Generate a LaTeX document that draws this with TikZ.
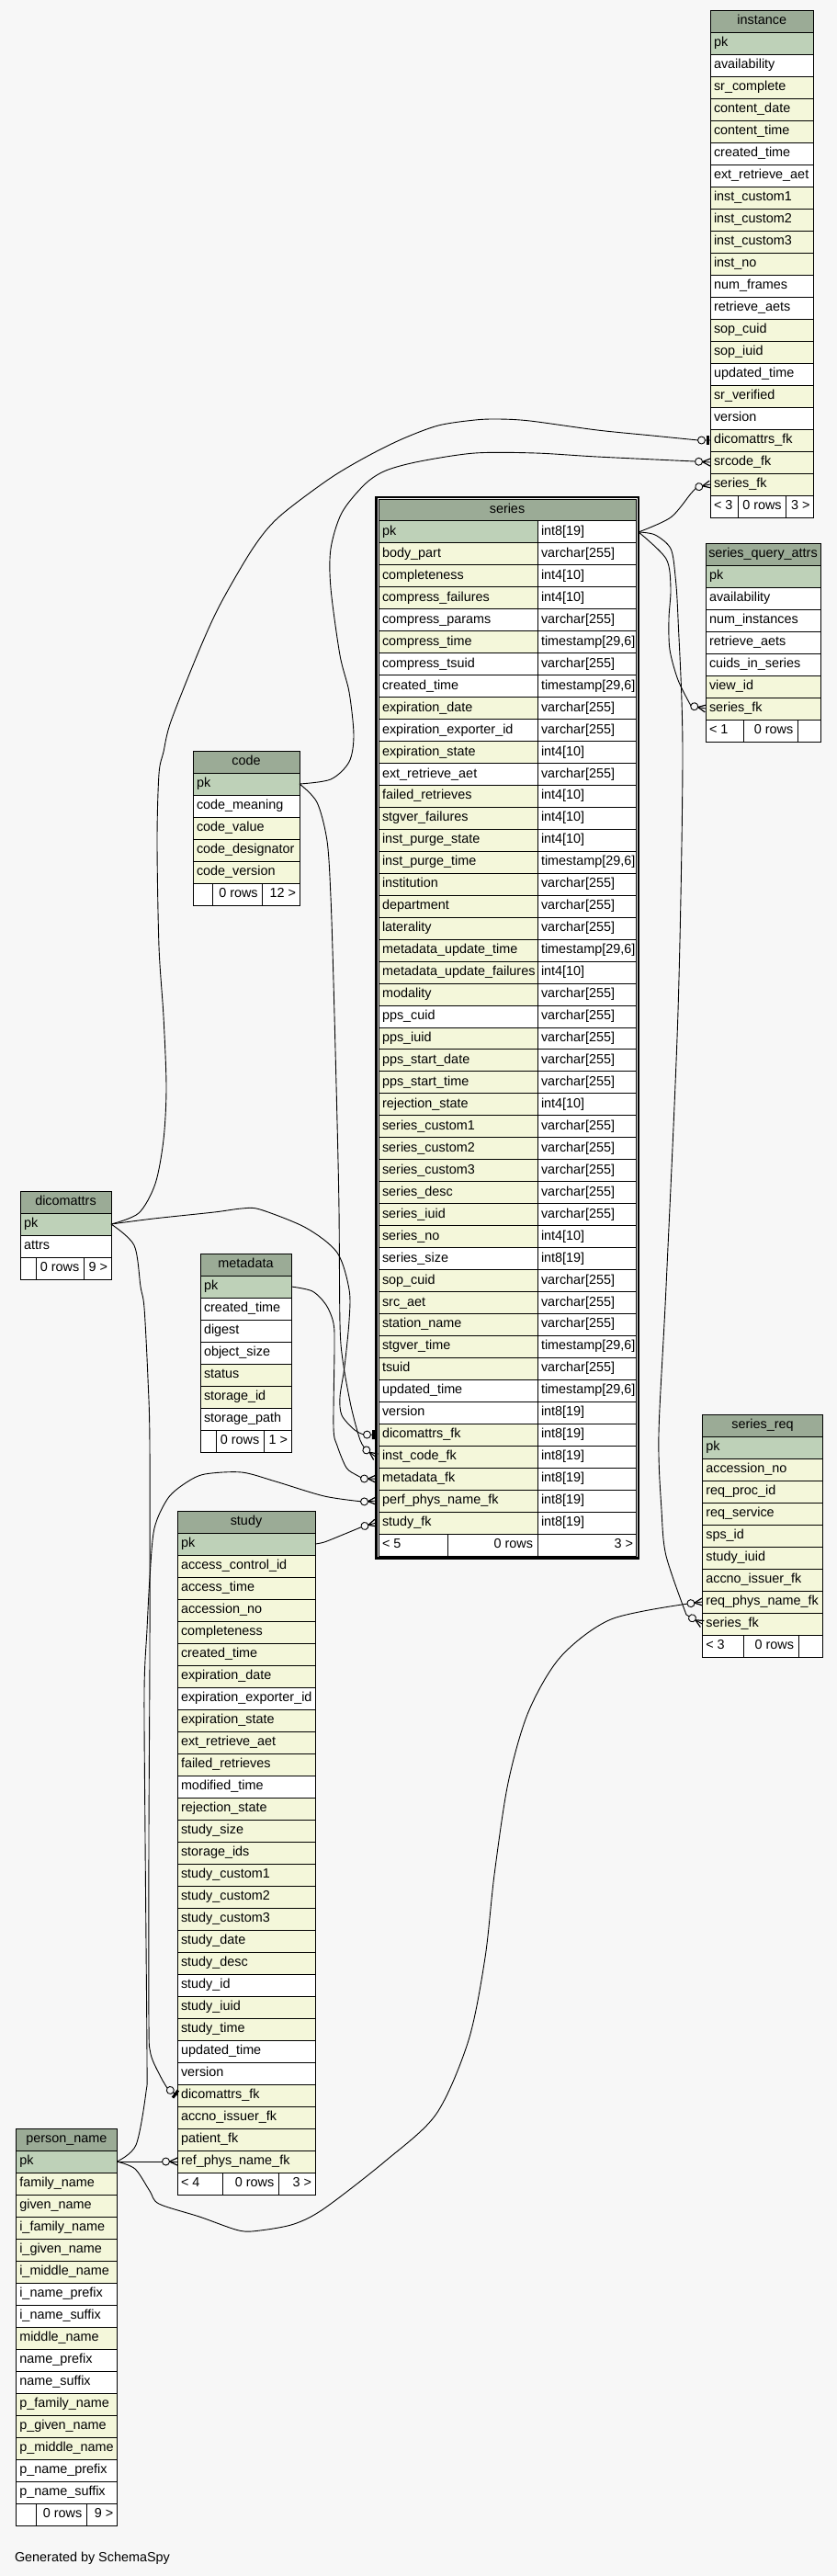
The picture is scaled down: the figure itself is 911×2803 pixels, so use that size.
\documentclass[tikz,border=0pt]{standalone}
\usepackage{fontspec}
\setmainfont{Liberation Sans}
\usetikzlibrary{decorations.markings}
\definecolor{bgc}{HTML}{F7F7F7}
\definecolor{hdc}{HTML}{9BAB96}
\definecolor{pkc}{HTML}{BED1B8}
\definecolor{idc}{HTML}{F4F7DA}
\tikzset{
  cP/.style={fill=pkc}, cY/.style={fill=idc}, cW/.style={fill=white}, cH/.style={fill=hdc},
  cellline/.style={draw=black, line width=1bp},
  txt/.style={font=\fontsize{14.4bp}{17bp}\selectfont, inner sep=0pt, outer sep=0pt, text=black},
  fk/.style={draw=black, line width=0.9bp},
  crowo/.style={postaction={decorate, decoration={markings, mark=at position 1 with {%
     \draw[line width=1.2bp] (-8.5bp,0) -- (0,4bp) (-8.5bp,0) -- (0,-4bp);
     \filldraw[fill=bgc, draw=black, line width=0.9bp] (-12.5bp,0) circle (4bp);}}}},
  teeo/.style={postaction={decorate, decoration={markings, mark=at position 1 with {%
     \fill[black] (-4bp,-5bp) rectangle (-1bp,5bp);
     \filldraw[fill=bgc, draw=black, line width=0.9bp] (-9.5bp,0) circle (4bp);}}}},
}
% #1 id, #2 title, #3 left, #4 right, #5 top, #6 rows
\newcommand\dbtab[6]{%
  \path[cH,cellline] (#3,#5) rectangle (#4,#5+24);
  \node[txt,anchor=base] (#1) at ({(#3+#4)/2},#5+15.5) {#2};
  \foreach \nm/\st [count=\i] in {#6} {%
    \pgfmathsetmacro\ry{#5+24*\i}%
    \path[\st,cellline] (#3,\ry) rectangle (#4,\ry+24);
    \node[txt,anchor=base west] (#1-\nm) at (#3+4,\ry+15.5) {\nm};
    \coordinate (#1-\nm-w) at (#3,\ry+12);
    \coordinate (#1-\nm-e) at (#4,\ry+12);
  }%
}
% #1 id, #2 left, #3 right, #4 top, #5 d1, #6 d2, #7 t1, #8 t2, #9 t3
\newcommand\dbfoot[9]{%
  \path[cW,cellline] (#2,#4) rectangle (#3,#4+24);
  \draw[cellline] (#5,#4) -- (#5,#4+24) (#6,#4) -- (#6,#4+24);
  \node[txt,anchor=base west] (#1-f1) at (#2+4,#4+15.5) {#7};
  \node[txt,anchor=base east] (#1-f2) at (#6-5,#4+15.5) {#8};
  \node[txt,anchor=base east] (#1-f3) at (#3-4,#4+15.5) {#9};
}
\begin{document}
\catcode`\_=12
\begin{tikzpicture}[x=1bp,y=-1bp]
\useasboundingbox (0,0) rectangle (911,2803);
\fill[bgc] (0,0) rectangle (911,2803);

% instance
\dbtab{instance}{instance}{773}{885.5}{11}{pk/cP, availability/cW, sr_complete/cY, content_date/cY, content_time/cY, created_time/cW, ext_retrieve_aet/cW, inst_custom1/cY, inst_custom2/cY, inst_custom3/cY, inst_no/cY, num_frames/cW, retrieve_aets/cW, sop_cuid/cY, sop_iuid/cY, updated_time/cW, sr_verified/cY, version/cW, dicomattrs_fk/cY, srcode_fk/cY, series_fk/cY}
\dbfoot{instance}{773}{885.5}{539}{803.3}{855.7}{< 3}{0 rows}{3 >}

% series_query_attrs
\dbtab{sqa}{series_query_attrs}{768}{893}{591}{pk/cP, availability/cW, num_instances/cW, retrieve_aets/cW, cuids_in_series/cW, view_id/cY, series_fk/cY}
\dbfoot{sqa}{768}{893}{783}{809.3}{868.3}{< 1}{0 rows}{}

% code
\dbtab{code}{code}{210}{326}{817}{pk/cP, code_meaning/cW, code_value/cY, code_designator/cY, code_version/cY}
\dbfoot{code}{210}{326}{961}{231.7}{285.7}{}{0 rows}{12 >}

% dicomattrs
\dbtab{dicomattrs}{dicomattrs}{22}{121}{1296}{pk/cP, attrs/cW}
\dbfoot{dicomattrs}{22}{121}{1368}{39.3}{91.3}{}{0 rows}{9 >}

% metadata
\dbtab{metadata}{metadata}{218}{317}{1364}{pk/cP, created_time/cW, digest/cW, object_size/cW, status/cY, storage_id/cY, storage_path/cW}
\dbfoot{metadata}{218}{317}{1556}{235.7}{287.3}{}{0 rows}{1 >}

% study
\dbtab{study}{study}{193}{343}{1644}{pk/cP, access_control_id/cY, access_time/cY, accession_no/cY, completeness/cY, created_time/cY, expiration_date/cY, expiration_exporter_id/cW, expiration_state/cY, ext_retrieve_aet/cY, failed_retrieves/cY, modified_time/cW, rejection_state/cY, study_size/cY, storage_ids/cY, study_custom1/cY, study_custom2/cY, study_custom3/cY, study_date/cY, study_desc/cY, study_id/cW, study_iuid/cY, study_time/cY, updated_time/cW, version/cW, dicomattrs_fk/cY, accno_issuer_fk/cY, patient_fk/cY, ref_phys_name_fk/cY}
\dbfoot{study}{193}{343}{2364}{242.3}{303.3}{< 4}{0 rows}{3 >}

% person_name
\dbtab{person_name}{person_name}{17.3}{127.3}{2316}{pk/cP, family_name/cY, given_name/cY, i_family_name/cY, i_given_name/cY, i_middle_name/cY, i_name_prefix/cW, i_name_suffix/cW, middle_name/cY, name_prefix/cW, name_suffix/cW, p_family_name/cY, p_given_name/cY, p_middle_name/cY, p_name_prefix/cW, p_name_suffix/cW}
\dbfoot{person_name}{17.3}{127.3}{2724}{39.3}{94.3}{}{0 rows}{9 >}

% series_req
\dbtab{series_req}{series_req}{764.3}{895.7}{1539}{pk/cP, accession_no/cY, req_proc_id/cY, req_service/cY, sps_id/cY, study_iuid/cY, accno_issuer_fk/cY, req_phys_name_fk/cY, series_fk/cY}
\dbfoot{series_req}{764.3}{895.7}{1779}{809}{869}{< 3}{0 rows}{}

% series (focus table)
\path[cH,cellline] (412,543) rectangle (692,543+23.958);
\node[txt,anchor=base] (series) at (552,543+15.5) {series};
\foreach \nm/\ty/\st [count=\i] in {pk/{int8[19]}/cP, body_part/{varchar[255]}/cY, completeness/{int4[10]}/cY, compress_failures/{int4[10]}/cY, compress_params/{varchar[255]}/cW, compress_time/{timestamp[29,6]}/cY, compress_tsuid/{varchar[255]}/cW, created_time/{timestamp[29,6]}/cW, expiration_date/{varchar[255]}/cY, expiration_exporter_id/{varchar[255]}/cW, expiration_state/{int4[10]}/cY, ext_retrieve_aet/{varchar[255]}/cW, failed_retrieves/{int4[10]}/cY, stgver_failures/{int4[10]}/cY, inst_purge_state/{int4[10]}/cY, inst_purge_time/{timestamp[29,6]}/cY, institution/{varchar[255]}/cY, department/{varchar[255]}/cY, laterality/{varchar[255]}/cY, metadata_update_time/{timestamp[29,6]}/cY, metadata_update_failures/{int4[10]}/cY, modality/{varchar[255]}/cY, pps_cuid/{varchar[255]}/cW, pps_iuid/{varchar[255]}/cY, pps_start_date/{varchar[255]}/cY, pps_start_time/{varchar[255]}/cY, rejection_state/{int4[10]}/cY, series_custom1/{varchar[255]}/cY, series_custom2/{varchar[255]}/cY, series_custom3/{varchar[255]}/cY, series_desc/{varchar[255]}/cY, series_iuid/{varchar[255]}/cY, series_no/{int4[10]}/cY, series_size/{int8[19]}/cW, sop_cuid/{varchar[255]}/cY, src_aet/{varchar[255]}/cY, station_name/{varchar[255]}/cY, stgver_time/{timestamp[29,6]}/cY, tsuid/{varchar[255]}/cY, updated_time/{timestamp[29,6]}/cW, version/{int8[19]}/cW, dicomattrs_fk/{int8[19]}/cY, inst_code_fk/{int8[19]}/cY, metadata_fk/{int8[19]}/cY, perf_phys_name_fk/{int8[19]}/cY, study_fk/{int8[19]}/cY} {%
  \pgfmathsetmacro\ry{543+23.958*\i}%
  \path[\st,cellline] (412,\ry) rectangle (585,\ry+23.958);
  \path[cW,cellline] (585,\ry) rectangle (692,\ry+23.958);
  \node[txt,anchor=base west] (series-\nm) at (416,\ry+15.5) {\nm};
  \node[txt,anchor=base west] (series-\nm-type) at (589,\ry+15.5) {\ty};
  \coordinate (series-\nm-w) at (409,\ry+12);
  \coordinate (series-\nm-e) at (695,\ry+12);
}
\path[cW,cellline] (412,1669.0) rectangle (692,1693);
\draw[cellline] (487,1669.0) -- (487,1693) (585,1669.0) -- (585,1693);
\node[txt,anchor=base west] (series-f1) at (416,1669+15.5) {< 5};
\node[txt,anchor=base east] (series-f2) at (580,1669+15.5) {0 rows};
\node[txt,anchor=base east] (series-f3) at (689,1669+15.5) {3 >};
\draw[line width=2.5bp] (409.25,540.75) rectangle (694.75,1695.25);

% connectors
% instance.dicomattrs_fk -> dicomattrs.pk
\draw[fk,teeo] plot[smooth,tension=0.5] coordinates {(dicomattrs-pk-e) (151,1320) (169,1288) (178,1240) (181,1183) (178,1106) (173,1030) (171,915) (173,842) (178,818) (186,785) (217,707) (240,657) (275,597) (303,563) (357,522) (397,498) (437,478) (477,463) (517,457) (543,456) (577,458) (650,468) (710,474) (760,479)} -- (instance-dicomattrs_fk-w);
% instance.srcode_fk -> code.pk
\draw[fk,crowo] plot[smooth,tension=0.5] coordinates {(code-pk-e) (360,848) (380,829) (385,800) (380,753) (370,713) (360,640) (360,597) (372,558) (397,527) (420,512) (457,502) (517,493) (583,493) (650,497) (756,502)} -- (instance-srcode_fk-w);
% instance.series_fk -> series.pk
\draw[fk,crowo] plot[smooth,tension=0.5] coordinates {(series-pk-e) (730,563) (752,537) (759,530)} -- (instance-series_fk-w);
% series_query_attrs.series_fk -> series.pk
\draw[fk,crowo] plot[smooth,tension=0.5] coordinates {(series-pk-e) (725,608) (730,640) (728,673) (729,707) (738,740) (752,768)} -- (sqa-series_fk-w);
% series_req.series_fk -> series.pk
\draw[fk,crowo] plot[smooth,tension=0.5] coordinates {(series-pk-e) (713,582) (730,597) (735,627) (738,673) (743,820) (738,1100) (725,1400) (717,1560) (720,1643) (725,1693) (747,1757)} -- (series_req-series_fk-w);
% series_req.req_phys_name_fk -> person_name.pk
\draw[fk,crowo] plot[smooth,tension=0.5] coordinates {(person_name-pk-e) (147,2360) (163,2384) (173,2398) (217,2412) (260,2427) (283,2427) (320,2420) (353,2403) (420,2351) (475,2300) (510,2220) (528,2130) (538,2040) (553,1940) (575,1863) (610,1803) (665,1762) (749,1745)} -- (series_req-req_phys_name_fk-w);
% series.perf_phys_name_fk -> person_name.pk
\draw[fk,crowo] plot[smooth,tension=0.5] coordinates {(person_name-pk-e) (148,2334) (159,2276) (160,2240) (158,2000) (157,1840) (160,1773) (163,1717) (168,1663) (183,1630) (203,1613) (223,1604) (263,1602) (300,1612) (353,1628) (395,1634)} -- (series-perf_phys_name_fk-w);
% study.ref_phys_name_fk -> person_name.pk
\draw[fk,crowo] (person_name-pk-e) -- (study-ref_phys_name_fk-w);
% study.dicomattrs_fk -> dicomattrs.pk
\draw[fk,teeo] plot[smooth,tension=0.5] coordinates {(dicomattrs-pk-e) (146,1355) (153,1400) (157,1423) (161,1500) (163,1573) (163,1800) (162,2000) (162,2200) (164,2235) (175,2260) (182,2272)} -- (study-dicomattrs_fk-w);
% series.dicomattrs_fk -> dicomattrs.pk
\draw[fk,teeo] plot[smooth,tension=0.5] coordinates {(dicomattrs-pk-e) (167,1326) (233,1319) (263,1315) (283,1316) (333,1336) (367,1363) (380,1403) (380,1437) (375,1487) (370,1520) (372,1540) (386,1556) (396,1561)} -- (series-dicomattrs_fk-w);
% series.inst_code_fk -> code.pk
\draw[fk,crowo] plot[smooth,tension=0.5] coordinates {(code-pk-e) (345,873) (356,915) (360,976) (363,1068) (367,1221) (369,1317) (370,1440) (373,1480) (382,1530) (392,1567) (399,1578)} -- (series-inst_code_fk-w);
% series.metadata_fk -> metadata.pk
\draw[fk,crowo] plot[smooth,tension=0.5] coordinates {(metadata-pk-e) (340,1405) (355,1420) (363,1440) (364,1467) (363,1553) (367,1573) (377,1597) (388,1605) (396,1609)} -- (series-metadata_fk-w);
% series.study_fk -> study.pk
\draw[fk,crowo] plot[smooth,tension=0.5] coordinates {(study-pk-e) (353,1678) (373,1670) (390,1663) (395,1661)} -- (series-study_fk-w);

\node[txt,anchor=base west] (credit) at (16,2787) {Generated by SchemaSpy};
\end{tikzpicture}
\end{document}
